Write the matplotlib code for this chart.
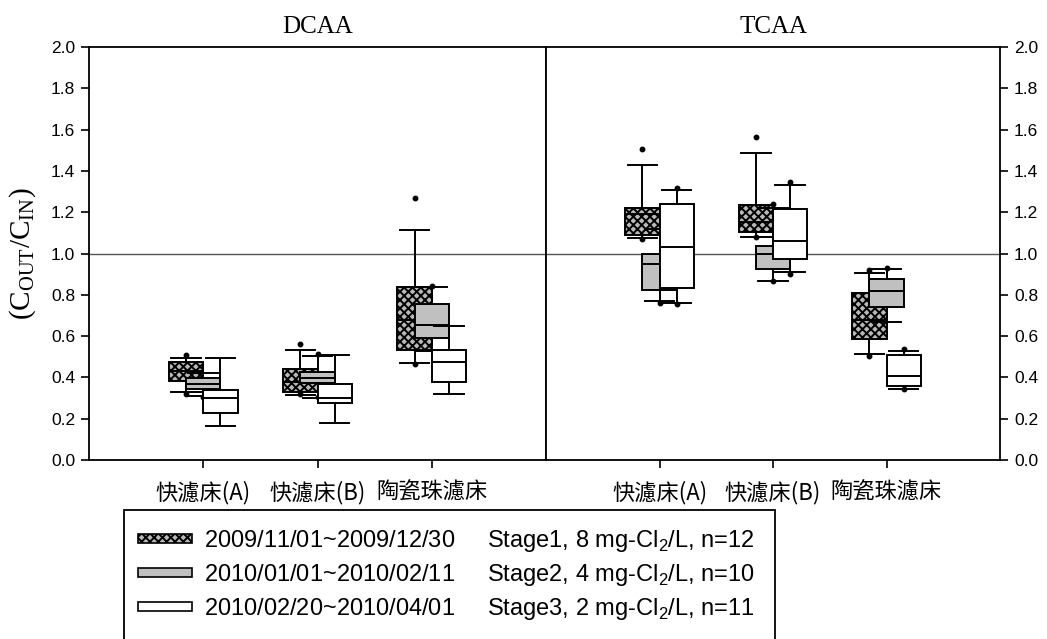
import matplotlib
matplotlib.use("Agg")
import matplotlib.pyplot as plt
from matplotlib.patches import Patch, Rectangle

plt.rcParams['mathtext.fontset'] = 'custom'
plt.rcParams['mathtext.rm'] = 'Liberation Serif'
plt.rcParams['mathtext.sf'] = 'Liberation Sans'
plt.rcParams['hatch.linewidth'] = 1.4

# categories / labels
groups = ['快濾床(A)', '快濾床(B)', '陶瓷珠濾床']
panels = ['DCAA', 'TCAA']
stage_dates = ['2009/11/01~2009/12/30', '2010/01/01~2010/02/11', '2010/02/20~2010/04/01']
stage_notes = [r'Stage1, 8 mg-Cl$_\mathsf{2}$/L, n=12',
               r'Stage2, 4 mg-Cl$_\mathsf{2}$/L, n=10',
               r'Stage3, 2 mg-Cl$_\mathsf{2}$/L, n=11']

# box statistics, rows = stage 1..3, columns = groups
dcaa_q1 = [[0.384, 0.328, 0.533], [0.342, 0.371, 0.592], [0.228, 0.275, 0.376]]
dcaa_med = [[0.430, 0.380, 0.678], [0.370, 0.397, 0.652], [0.300, 0.300, 0.473]]
dcaa_q3 = [[0.473, 0.442, 0.836], [0.396, 0.425, 0.754], [0.338, 0.368, 0.533]]
dcaa_lo = [[0.328, 0.315, 0.471], [0.310, 0.300, 0.528], [0.166, 0.180, 0.321]]
dcaa_hi = [[0.495, 0.531, 1.114], [0.423, 0.502, 0.836], [0.495, 0.508, 0.649]]
dcaa_out = [[[0.508, 0.320], [0.563, 0.322], [1.267, 0.466]],
            [[0.305], [0.513, 0.305], [0.843]],
            [[], [], []]]

tcaa_q1 = [[1.091, 1.103, 0.587], [0.825, 0.925, 0.739], [0.831, 0.971, 0.358]]
tcaa_med = [[1.190, 1.151, 0.676], [0.949, 0.998, 0.818], [1.033, 1.061, 0.405]]
tcaa_q3 = [[1.219, 1.233, 0.810], [0.998, 1.036, 0.877], [1.241, 1.215, 0.507]]
tcaa_lo = [[1.074, 1.080, 0.515], [0.770, 0.868, 0.668], [0.759, 0.910, 0.342]]
tcaa_hi = [[1.430, 1.488, 0.904], [1.120, 1.220, 0.925], [1.309, 1.333, 0.528]]
tcaa_out = [[[1.506, 1.070], [1.563, 1.080], [0.920, 0.505]],
            [[0.762], [1.238, 0.865], [0.930]],
            [[1.315, 0.755], [1.348, 0.900], [0.537, 0.345]]]

styles = [dict(facecolor='#b8b8b8', hatch='xxxx'),
          dict(facecolor='#c0c0c0', hatch=None),
          dict(facecolor='white', hatch=None)]
offsets = [-0.15, 0.0, 0.15]

W, H = 1047, 639
fig = plt.figure(figsize=(W / 100, H / 100), dpi=100)
ax_l = fig.add_axes([89 / W, 1 - 460 / H, (546 - 89) / W, 413 / H])
ax_r = fig.add_axes([546 / W, 1 - 460 / H, (1000 - 546) / W, 413 / H])

data = {'DCAA': (dcaa_q1, dcaa_med, dcaa_q3, dcaa_lo, dcaa_hi, dcaa_out),
        'TCAA': (tcaa_q1, tcaa_med, tcaa_q3, tcaa_lo, tcaa_hi, tcaa_out)}

for ax, name in zip([ax_l, ax_r], panels):
    q1, med, q3, lo, hi, out = data[name]
    ax.axhline(1.0, color='#555555', lw=1.0, zorder=1)
    for s in range(3):
        stats = []
        for g in range(3):
            stats.append(dict(q1=q1[s][g], med=med[s][g], q3=q3[s][g],
                              whislo=lo[s][g], whishi=hi[s][g],
                              fliers=out[s][g]))
        pos = [g + 1 + offsets[s] for g in range(3)]
        st = styles[s]
        ax.bxp(stats, positions=pos, widths=0.3, capwidths=0.26,
               patch_artist=True, manage_ticks=False, zorder=2 + s,
               boxprops=dict(facecolor=st['facecolor'], edgecolor='black',
                             hatch=st['hatch'], linewidth=1.4),
               whiskerprops=dict(color='black', lw=1.4),
               capprops=dict(color='black', lw=1.4),
               medianprops=dict(color='black', lw=1.4),
               flierprops=dict(marker='o', markerfacecolor='black',
                               markeredgecolor='black', markersize=3.2))
    ax.set_xlim(0, 4)
    ax.set_ylim(0, 2.0)
    ax.set_yticks([i / 5 for i in range(11)])
    ax.set_yticklabels([f'{i / 5:.1f}' for i in range(11)],
                       family='Liberation Sans', fontsize=12.5)
    ax.set_xticks([1, 2, 3])
    ax.set_xticklabels(groups, family=['Noto Sans CJK TC'], fontsize=16)
    ax.tick_params(axis='x', length=6, width=1.2, pad=9)
    ax.tick_params(axis='y', length=6, width=1.2, pad=4)
    for sp in ax.spines.values():
        sp.set_linewidth(1.3)
    ax.set_title(name, family='Liberation Serif', fontsize=18, pad=10)

ax_r.yaxis.tick_right()

ax_l.set_ylabel(r'(C$_{\mathrm{OUT}}$/C$_{\mathrm{IN}}$)',
                family='Liberation Serif', fontsize=21)
ax_l.yaxis.set_label_coords(-0.112, 0.5)

# legend
handles = [Patch(edgecolor='black', lw=1.2, **styles[s]) for s in range(3)]
labels = [stage_dates[s] + '     ' + stage_notes[s] for s in range(3)]
fig.legend(handles, labels, loc='upper left',
           bbox_to_anchor=(126 / W, 1 - 516 / H), frameon=False,
           prop=dict(family='Liberation Sans', size=17),
           handlelength=2.3, handleheight=0.22, handletextpad=0.5,
           labelspacing=0.34, borderpad=0)
fig.add_artist(Rectangle((124 / W, -0.05), (775 - 124) / W, (639 - 510) / H + 0.05,
                         transform=fig.transFigure, fill=False,
                         edgecolor='black', lw=1.3))

fig.savefig('out.png', dpi=100)
